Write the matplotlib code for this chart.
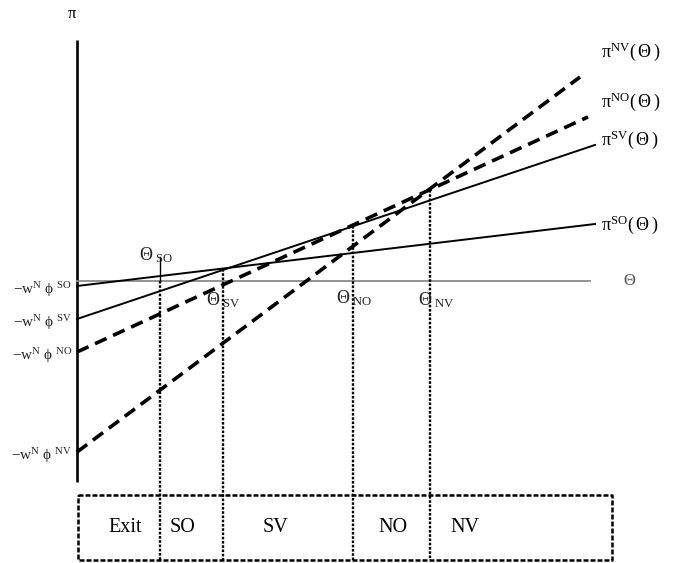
import matplotlib
matplotlib.use("Agg")
import matplotlib.pyplot as plt
import numpy as np

plt.rcParams["font.family"] = ["Liberation Serif", "DejaVu Serif"]
plt.rcParams["mathtext.fontset"] = "custom"
plt.rcParams["mathtext.rm"] = "Liberation Serif"
plt.rcParams["mathtext.it"] = "Liberation Serif"
plt.rcParams["mathtext.bf"] = "Liberation Serif:bold"

# profit lines  pi^k(theta) = -w^N phi^k + slope_k * theta  (units)
modes = ["SO", "SV", "NO", "NV"]
intercepts = [-5, -38, -71, -171]
slopes = [0.1197, 0.336, 0.460, 0.7455]
theta_end = [518, 518, 511, 503]
dashed = [False, False, True, True]

# cut-off values of theta and the regions between them
thresholds = [83, 146, 276, 353]
regions = ["Exit", "SO", "SV", "NO", "NV"]

theta_max = 513

fig = plt.figure(figsize=(6.77, 5.63), dpi=100)
ax = fig.add_axes([0, 0, 1, 1])
ax.set_xlim(-77, 600)
ax.set_ylim(-282, 281)
ax.axis("off")

# axes
ax.plot([0, 0], [-201, 241], color="k", lw=1.9, solid_capstyle="butt")
ax.plot([0, theta_max], [0, 0], color="#8a8a8a", lw=1.3)
ax.text(-5, 267, r"$\pi$", fontsize=12, ha="center", va="center")
ax.text(553, 0, r"$\Theta$", fontsize=12, ha="center", va="center", color="#555555")

# profit lines
for m, b, s, xe, d in zip(modes, intercepts, slopes, theta_end, dashed):
    x = np.array([0, xe])
    y = b + s * x
    if d:
        ax.plot(x, y, color="k", lw=2.6, ls=(0, (3.5, 2)))
    else:
        ax.plot(x, y, color="k", lw=1.4)
    ax.text(-5, b - 4, r"$\mathrm{-w}^{\mathrm{N}}\ \phi^{\ \mathrm{%s}}$" % m,
            fontsize=11, ha="right", va="center", color="#222222")

label_y = [56, 141, 179, 229]
for m, ly in zip(modes, label_y):
    ax.text(524, ly, r"$\pi^{\mathrm{%s}}(\,\Theta\,)$" % m, fontsize=13,
            ha="left", va="center")

# regions box
box_left, box_right, box_top, box_bottom = 1, 535, -214, -279
ax.plot([box_left, box_right, box_right, box_left, box_left],
        [box_top, box_top, box_bottom, box_bottom, box_top],
        color="k", lw=1.8, ls=(0, (2, 0.8)))

# threshold lines
for i, t in enumerate(thresholds):
    if i == 0:
        top = 0
        ax.plot([t, t], [0, 24], color="k", lw=1.0)
    else:
        top = intercepts[i - 1] + slopes[i - 1] * t
    ax.plot([t, t], [top, box_bottom], color="k", lw=1.7, ls=(0, (1.1, 0.7)))

thr_label_pos = [(62, 26), (129, -19), (259, -17), (341, -19)]
for m, (lx, ly) in zip(modes, thr_label_pos):
    ax.text(lx, ly, r"$\Theta_{\ \mathrm{%s}}$" % m, fontsize=13,
            ha="left", va="center", color="#222222")

region_x = [48, 106, 198, 316, 388]
for r, rx in zip(regions, region_x):
    ax.text(rx, (box_top + box_bottom) / 2, r, fontsize=14.5, ha="center", va="center")

fig.savefig("out.png", dpi=100)
